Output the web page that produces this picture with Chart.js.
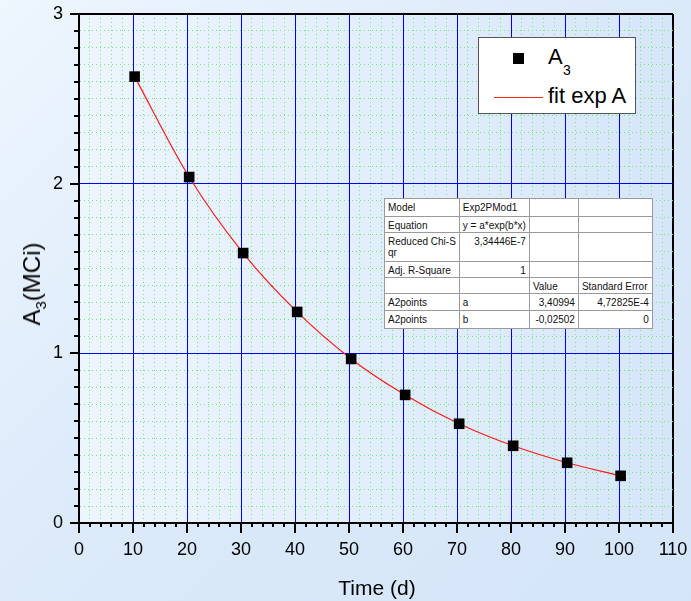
<!DOCTYPE html>
<html><head><meta charset="utf-8">
<script src="https://cdn.jsdelivr.net/npm/chart.js@4"></script>
<style>
html,body{margin:0;padding:0;}
body{width:691px;height:601px;overflow:hidden;background:linear-gradient(135deg,#eef6fe 0%,#dceafa 45%,#d4e5f8 100%);font-family:'Liberation Sans',Arial,sans-serif;color:#000;}
#wrap{position:relative;width:691px;height:601px;}
canvas{position:absolute;left:0;top:0;}
.abs{position:absolute;white-space:nowrap;}
#ytitle{left:32px;top:284px;font-size:24px;line-height:24px;transform:translate(-50%,-50%) rotate(-90deg);}
#ytitle sub{font-size:15px;vertical-align:-6px;line-height:0;}
#xtitle{left:377px;top:577px;font-size:21px;line-height:21px;transform:translateX(-50%);}
#legend{left:478px;top:37px;width:158px;height:77px;box-sizing:border-box;background:#fff;border:1.5px solid #555;}
#lgSq{left:513px;top:53px;width:11px;height:11px;background:#000;}
#lgA{left:548px;top:46px;font-size:22px;line-height:22px;}
#lgSub{left:563px;top:63px;font-size:14px;line-height:14px;}
#lgLine{left:494px;top:96.5px;width:49px;height:0;border-top:1.5px solid #ff2020;}
#lgFit{left:548px;top:85px;font-size:22px;line-height:22px;}
#tbl{position:absolute;left:384px;top:198px;border-collapse:collapse;background:#fff;border:1.5px solid #444;font-size:10px;line-height:11px;color:#111;table-layout:fixed;}
#tbl td{border:1px solid #9a9a9a;padding:2.5px 3px 0 3px;vertical-align:top;white-space:nowrap;overflow:hidden;box-sizing:border-box;}
#tbl td.r{text-align:right;}
</style></head>
<body>
<div id="wrap">
<canvas id="c" width="691" height="601"></canvas>
<div class="abs" id="ytitle">A<sub>3</sub>(MCi)</div>
<div class="abs" id="xtitle">Time (d)</div>
<div class="abs" id="legend"></div>
<div class="abs" id="lgSq"></div>
<div class="abs" id="lgA">A</div>
<div class="abs" id="lgSub">3</div>
<div class="abs" id="lgLine"></div>
<div class="abs" id="lgFit">fit exp A</div>
<table id="tbl">
<colgroup><col style="width:71px"><col style="width:70px"><col style="width:49px"><col style="width:74px"></colgroup>
<tr style="height:18px"><td>Model</td><td>Exp2PMod1</td><td></td><td></td></tr>
<tr style="height:16px"><td>Equation</td><td>y = a*exp(b*x)</td><td></td><td></td></tr>
<tr style="height:29px"><td>Reduced Chi-S<br>qr</td><td class="r">3,34446E-7</td><td></td><td></td></tr>
<tr style="height:16px"><td>Adj. R-Square</td><td class="r">1</td><td></td><td></td></tr>
<tr style="height:16px"><td></td><td></td><td>Value</td><td>Standard Error</td></tr>
<tr style="height:17px"><td>A2points</td><td>a</td><td class="r">3,40994</td><td class="r">4,72825E-4</td></tr>
<tr style="height:18px"><td>A2points</td><td>b</td><td class="r">-0,02502</td><td class="r">0</td></tr>
</table>
</div>
<script>
// ---- data ----
const timeDays    = [10.3, 20.4, 30.4, 40.4, 50.4, 60.4, 70.4, 80.4, 90.4, 100.3];
const activityA3  = [2.631, 2.039, 1.591, 1.244, 0.967, 0.755, 0.585, 0.455, 0.355, 0.278];
const xTickLabels = [0, 10, 20, 30, 40, 50, 60, 70, 80, 90, 100, 110];
const yTickLabels = [0, 1, 2, 3];

const points = timeDays.map((t, i) => ({x: t, y: activityA3[i]}));

function isMult(v, m) { return Math.abs(v / m - Math.round(v / m)) < 1e-6; }
function isLabel(v, arr) { return arr.some(a => Math.abs(a - v) < 1e-6); }

const BLUE = '#0000ff', GREEN = '#6cee6c';

const plotBg = {
  id: 'plotBg',
  beforeDraw(chart) {
    const {ctx, chartArea: a} = chart;
    const g = ctx.createLinearGradient(a.left, 0, a.right, 0);
    g.addColorStop(0, '#edf5fe');
    g.addColorStop(1, '#d6e6f9');
    ctx.save();
    ctx.fillStyle = g;
    ctx.fillRect(a.left, a.top, a.right - a.left, a.bottom - a.top);
    ctx.restore();
  }
};

const tickMarks = {
  id: 'tickMarks',
  afterDraw(chart) {
    const {ctx} = chart;
    const xs = chart.scales.x, ys = chart.scales.y;
    ctx.save();
    ctx.strokeStyle = '#000';
    ctx.lineWidth = 2;
    ctx.setLineDash([]);
    ctx.beginPath();
    xs.ticks.forEach(t => {
      const p = Math.round(xs.getPixelForValue(t.value));
      const len = isLabel(t.value, xTickLabels) ? 10 : 4;
      ctx.moveTo(p, xs.top);
      ctx.lineTo(p, xs.top + len);
    });
    ys.ticks.forEach(t => {
      const p = Math.round(ys.getPixelForValue(t.value));
      const len = isLabel(t.value, yTickLabels) ? 9 : 5;
      ctx.moveTo(ys.right, p);
      ctx.lineTo(ys.right - len, p);
    });
    ctx.stroke();
    ctx.restore();
  }
};

function zeroPad(s) { s.paddingTop = 0; s.paddingBottom = 0; s.paddingLeft = 0; s.paddingRight = 0; }

new Chart(document.getElementById('c'), {
  type: 'scatter',
  data: {
    datasets: [
      {
        label: 'A3',
        data: points,
        showLine: false,
        pointStyle: 'rect',
        pointRadius: 7.5,
        pointHoverRadius: 7.5,
        pointBackgroundColor: '#000',
        pointBorderColor: '#000',
        pointBorderWidth: 0,
        order: 0
      },
      {
        label: 'fit exp A',
        data: points,
        showLine: true,
        borderColor: '#ff1a1a',
        borderWidth: 1.2,
        pointRadius: 0,
        cubicInterpolationMode: 'monotone',
        order: 1
      }
    ]
  },
  options: {
    responsive: false,
    animation: false,
    layout: {padding: {top: 14, right: 18, left: 0, bottom: 0}},
    plugins: {legend: {display: false}, tooltip: {enabled: false}},
    scales: {
      x: {
        type: 'linear', min: 0, max: 110,
        afterFit: s => { s.height = 78; zeroPad(s); },
        ticks: {
          stepSize: 2, autoSkip: false, maxRotation: 0, padding: 16,
          color: '#000', font: {family: "'Liberation Sans', Arial, sans-serif", size: 18},
          callback: v => isLabel(v, xTickLabels) ? String(Math.round(v)) : ''
        },
        grid: {
          drawTicks: false,
          color: c => { const v = c.tick ? c.tick.value : 0; if (Math.abs(v - 110) < 1e-6) return '#000'; return isMult(v, 10) ? BLUE : GREEN; },
          lineWidth: c => { const v = c.tick ? c.tick.value : 0; return Math.abs(v - 110) < 1e-6 ? 2 : 1; }
        },
        border: {display: true, color: '#000', width: 2,
          dash: c => (c.tick && !isMult(c.tick.value, 10)) ? [1, 3] : []}
      },
      y: {
        type: 'linear', min: 0, max: 3,
        afterFit: s => { s.width = 79; zeroPad(s); },
        ticks: {
          stepSize: 0.1, autoSkip: false, maxTicksLimit: 1000, padding: 16,
          color: '#000', font: {family: "'Liberation Sans', Arial, sans-serif", size: 18},
          callback: v => isLabel(v, yTickLabels) ? String(Math.round(v)) : ''
        },
        grid: {
          drawTicks: false,
          color: c => { const v = c.tick ? c.tick.value : 0; if (Math.abs(v - 3) < 1e-6) return '#000'; return isMult(v, 1) ? BLUE : GREEN; },
          lineWidth: c => { const v = c.tick ? c.tick.value : 0; return Math.abs(v - 3) < 1e-6 ? 2 : 1; }
        },
        border: {display: true, color: '#000', width: 2,
          dash: c => (c.tick && !isMult(c.tick.value, 1)) ? [1, 3] : []}
      }
    }
  },
  plugins: [plotBg, tickMarks]
});
</script>
</body></html>
